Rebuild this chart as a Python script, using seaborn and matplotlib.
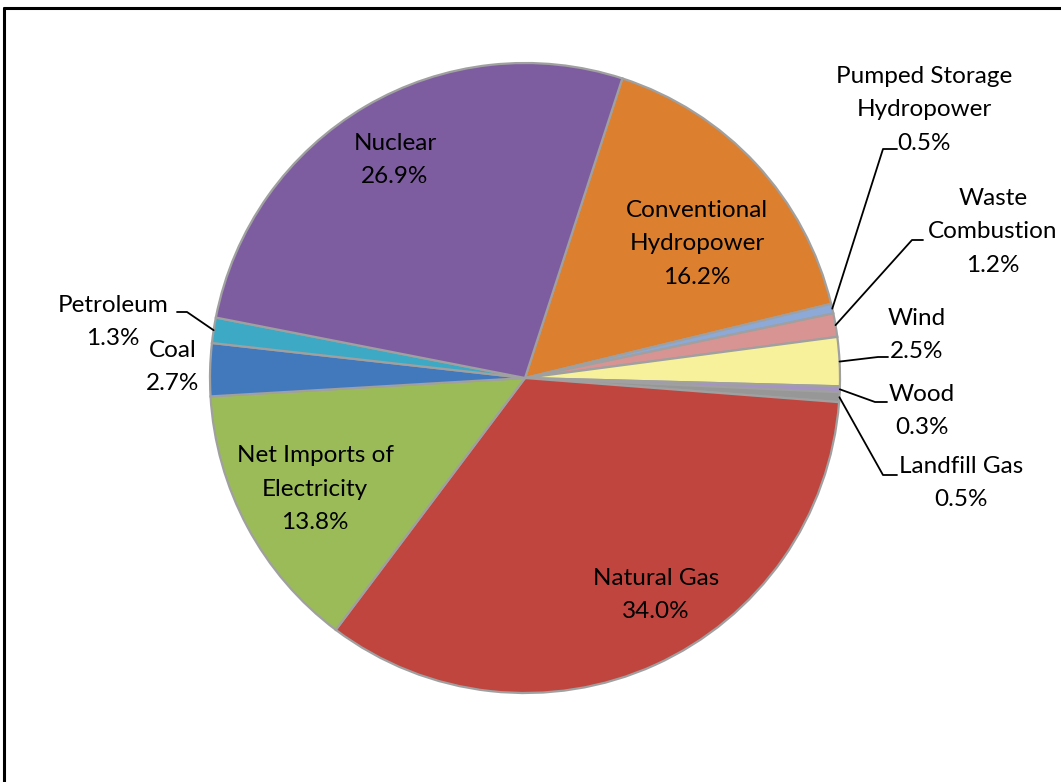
import numpy as np
import matplotlib
matplotlib.use("Agg")
import matplotlib.pyplot as plt
from matplotlib.lines import Line2D
import seaborn as sns

# Electricity generation shares (%), clockwise from the Nuclear / Hydro boundary
sources = ["Conventional Hydropower", "Pumped Storage Hydropower", "Waste Combustion",
           "Wind", "Wood", "Landfill Gas", "Natural Gas", "Net Imports of Electricity",
           "Coal", "Petroleum", "Nuclear"]
shares = [16.2, 0.5, 1.2, 2.5, 0.3, 0.5, 34.0, 13.8, 2.7, 1.3, 26.9]
label_text = ["Conventional\nHydropower", "Pumped Storage\nHydropower", "Waste\nCombustion",
              "Wind", "Wood", "Landfill Gas", "Natural Gas", "Net Imports of\nElectricity",
              "Coal", "Petroleum", "Nuclear"]
colors = ["#DC7F2F", "#8DA9D7", "#D89493", "#F7F19C", "#A693C6", "#979797",
          "#C0453F", "#9BBB59", "#4279BD", "#3DA9C5", "#7D5DA0"]

sns.set_theme(style="white")
plt.rcParams["font.family"] = ["Lato", "DejaVu Sans"]

W, H = 1061, 782
fig = plt.figure(figsize=(W / 100, H / 100), dpi=100)
fig.patch.set_facecolor("white")

# pie geometry in pixels
CX, CY, R = 525, 378, 315
ax = fig.add_axes([(CX - R) / W, (H - CY - R) / H, 2 * R / W, 2 * R / H])


def px(x, y):
    """Convert figure pixel coordinates to pie data coordinates."""
    return (x - CX) / R, (CY - y) / R


wedges, _ = ax.pie(shares, colors=colors, startangle=72, counterclock=False,
                   radius=1.0,
                   wedgeprops=dict(edgecolor="#A0A0A0", linewidth=1.6))
ax.set_xlim(-1, 1)
ax.set_ylim(-1, 1)
ax.set_aspect("equal")
ax.axis("off")

fs = 17.5
ls = 1.72

# labels drawn inside the larger slices
inside = {"Nuclear": (395, 160), "Conventional Hydropower": (697, 244),
          "Natural Gas": (656, 595), "Net Imports of Electricity": (315, 489)}
# labels outside with leader lines: text centre, elbow, horizontal end
outside = {
    "Pumped Storage Hydropower": ((924, 110), (883, 149), (897, 149)),
    "Waste Combustion": ((993, 232), (912, 240), (923, 240)),
    "Wind": ((917, 335), (878, 357), (888, 357)),
    "Wood": ((922, 411), (875, 402), (887, 402)),
    "Landfill Gas": ((961, 483), (883, 475), (897, 475)),
    "Petroleum": ((113, 322), (187, 312), (177, 312)),
    "Coal": ((173, 367), None, None),
}

for w, name, txt, val in zip(wedges, sources, label_text, shares):
    s = f"{txt}\n{val:.1f}%"
    if name in inside:
        x, y = px(*inside[name])
        ax.text(x, y, s, ha="center", va="center", fontsize=fs,
                linespacing=ls, color="black")
    else:
        (tx, ty), elbow, end = outside[name]
        x, y = px(tx, ty)
        ax.text(x, y, s, ha="center", va="center", fontsize=fs,
                linespacing=ls, color="black")
        if elbow is not None:
            mid = np.deg2rad((w.theta1 + w.theta2) / 2)
            p0 = (np.cos(mid) * 1.0, np.sin(mid) * 1.0)
            e = px(*elbow)
            f = px(*end)
            ax.add_line(Line2D([p0[0], e[0], f[0]], [p0[1], e[1], f[1]],
                               color="black", linewidth=1.3, clip_on=False))

# chart-area frame (top and left edges visible)
fig.add_artist(Line2D([4 / W, 4 / W], [0, 1 - 8 / H], color="black",
                      linewidth=2.2, transform=fig.transFigure))
fig.add_artist(Line2D([4 / W, 1], [1 - 8 / H, 1 - 8 / H], color="black",
                      linewidth=2.2, transform=fig.transFigure))

fig.savefig("out.png", dpi=100, facecolor="white")
